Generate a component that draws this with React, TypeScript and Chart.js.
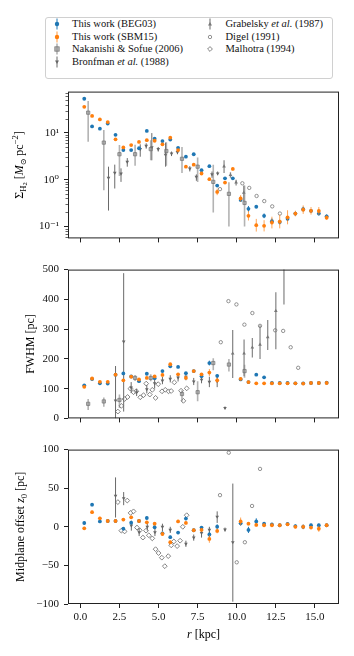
import React, { useEffect, useRef } from 'react';
import { Chart, registerables } from 'chart.js';
Chart.register(...registerables);

const FONT = "'Liberation Serif', 'DejaVu Serif', serif";
const BLUE = '#1f77b4';
const ORANGE = '#ff7f0e';

// ---------------- data ----------------
const R_BINS = [0.25, 0.75, 1.25, 1.75, 2.25, 2.75, 3.25, 3.75, 4.25, 4.75, 5.25, 5.75, 6.25, 6.75, 7.25, 7.75, 8.25, 8.75, 9.25, 9.75, 10.25, 10.75, 11.25, 11.75, 12.25, 12.75, 13.25, 13.75, 14.25, 14.75, 15.25, 15.75];

// surface density (Msun/pc^2), errors in dex
const SD_BEG03 = [53.5, 13.7, 12.3, 15.8, 9.1, 4.3, 4.3, 4.7, 11.0, 7.5, 6.7, 7.2, 4.8, 3.1, 3.5, 1.6, 1.95, 0.75, 1.07, 1.07, 0.37, 0.24, 0.265, 0.17, 0.13, 0.125, 0.147, 0.19, 0.235, 0.217, 0.19, 0.166];
const SD_BEG03_ERR = [0.01, 0.01, 0.01, 0.01, 0.01, 0.01, 0.01, 0.01, 0.01, 0.01, 0.01, 0.01, 0.01, 0.01, 0.01, 0.01, 0.01, 0.03, 0.02, 0.02, 0.04, 0.06, 0.02, 0.05, 0.06, 0.05, 0.05, 0.04, 0.05, 0.03, 0.04, 0.04];
const SD_SBM15 = [36, 23, 19.4, 17, 7.3, 4.9, 5.5, 6.4, 7.0, 6.8, 5.7, 7.9, 4.3, 1.9, 2.1, 1.36, 1.03, 0.55, 0.87, 1.7, 0.40, 0.17, 0.107, 0.104, 0.122, 0.128, 0.158, 0.19, 0.23, 0.217, 0.215, 0.155];
const SD_SBM15_ERR = [0.01, 0.01, 0.01, 0.01, 0.01, 0.01, 0.01, 0.01, 0.01, 0.01, 0.01, 0.01, 0.01, 0.01, 0.01, 0.01, 0.01, 0.07, 0.03, 0.03, 0.07, 0.1, 0.135, 0.12, 0.125, 0.145, 0.15, 0.06, 0.09, 0.08, 0.085, 0.05];

// FWHM (pc)
const FWHM_BEG03 = [111, 132, 118, 117, 147, 151, 141, 125, 150, 135, 159, 175, 173, 152, 159, 142, 186, 143, null, null, 131, 122, 147, 138, 119, 119, 119, 118, 118, 119, 119, 120];
const FWHM_BEG03_ERR = [3, 3, 3, 3, 3, 4, 3, 3, 3, 3, 4, 4, 4, 4, 4, 4, 8, 5, 0, 0, 4, 3, 3, 3, 2, 2, 2, 2, 2, 2, 2, 2];
const FWHM_SBM15 = [106, 134, 123, 123, 147, 128, 140, 131, 136, 141, 146, 182, 148, 136, 159, 148, 154, 128, null, null, 133, 122, 118, 118, 118, 118, 118, 118, 117, 119, 119, 119];
const FWHM_SBM15_ERR = [3, 3, 3, 3, 3, 4, 3, 3, 3, 3, 4, 4, 4, 4, 4, 4, 12, 8, 0, 0, 5, 3, 2, 2, 2, 2, 2, 2, 2, 2, 2, 2];

// midplane offset (pc)
const Z0_BEG03 = [4.9, 28.6, 7, 7.5, 7.5, -2.4, 5.4, 7.5, 11.4, -0.6, -8.5, -13.5, -7.5, 10.6, -4.5, -1, -10, 0.2, null, null, 4.5, -4, 7, 4, 3, 2, 3.6, 1, 0, 2, 2, 2];
const Z0_BEG03_ERR = [2, 2, 2, 2, 2, 2, 2, 2, 2, 2, 2, 2, 2, 2, 2, 2, 3, 3, 0, 0, 3, 4, 4, 2, 2, 2, 2, 2, 3, 2, 2, 2];
const Z0_SBM15 = [-2, 19, 11, 7.5, 7.5, 9.3, 12.3, 7.5, 5.8, 4.1, -9.3, -20, 7, 5, -4.5, -4, -15.7, -5.4, null, null, 7, 4, 2.4, 2, 2, 2, 3.2, 0, 0, -1, -2.5, 2];
const Z0_SBM15_ERR = [2, 2, 2, 2, 2, 2, 2, 2, 2, 2, 2, 2, 2, 2, 2, 2, 5, 3, 0, 0, 5, 2, 2, 2, 2, 2, 2, 2, 3, 2, 4, 2];

// Nakanishi & Sofue (2006)
const NS_SD_R = [0.5, 1.5, 2.5, 3.5, 4.5, 5.5, 6.5, 7.5, 8.5, 9.5, 10.5];
const NS_SD = [27, 6.2, 3.5, 3.5, 4.5, 4.1, 2.8, 1.9, 0.9, 0.5, 0.32];
const NS_SD_LO = [6.5, 0.6, 1.2, 2.0, 2.6, 2.0, 1.4, 0.9, 0.2, 0.1, 0.1];
const NS_SD_HI = [48, 11.5, 5.5, 5.6, 7.0, 6.3, 5.0, 3.0, 2.1, 0.88, 0.75];
const NS_FWHM_R = [0.5, 1.5, 2.5, 3.5, 4.5, 6.5, 7.5, 8.5, 9.5, 10.5];
const NS_FWHM = [49, 57, 62, 136, 136, 82, 88, 186, 181, 159];
const NS_FWHM_LO = [28, 39, 35, 126, 125, 57, 58, 162, 158, 137];
const NS_FWHM_HI = [65, 70, 80, 146, 148, 95, 125, 202, 200, 180];

// Bronfman et al. (1988)
const BR_SD_R = [1.8, 2.2, 2.6, 3.0, 3.83, 4.21, 4.57, 4.98, 5.45, 5.83, 6.21, 7.0, 7.42, 8.42, 8.78];
const BR_SD = [1.1, 1.4, 1.35, 2.4, 4.5, 5.3, 4.9, 4.5, 3.4, 3.6, 3.9, 1.73, 1.15, 1.3, 1.36];
const BR_SD_LO = [0.22, 0.65, 0.9, 1.9, 3.1, 4.6, 2.6, 4.0, 1.9, 3.2, 3.5, 1.5, 0.95, 1.1, 1.25];
const BR_SD_HI = [1.9, 2.1, 1.75, 2.9, 5.7, 6.0, 9.9, 5.0, 6.2, 4.0, 4.3, 1.95, 1.3, 1.5, 1.5];
const BR_FWHM_R = [2.25, 2.77, 3.25, 3.6, 4.25, 4.75, 5.25, 5.75, 6.25, 6.75, 7.25, 7.75, 8.25, 8.75, 9.25];
const BR_FWHM = [60, 258, 104, 88, 98, 118, 127, 133, 137, 140, 124, 130, 123, 125, 35];
const BR_FWHM_LO = [0, 23, 85, 75, 84, 100, 115, 121, 124, 128, 112, 118, 105, 105, 31];
const BR_FWHM_HI = [176, 488, 122, 100, 112, 135, 140, 145, 150, 152, 136, 142, 140, 142, 40];
const BR_Z0_R = [2.25, 2.77, 3.26, 3.76, 4.28, 4.77, 5.25, 5.75, 6.75, 7.25, 7.75, 8.25, 8.75, 9.25, 9.75];
const BR_Z0 = [40, 37, 1.5, -7, 0, -7, 0, -4, -22, -14, -8, -4, 13, -3.6, -20];
const BR_Z0_LO = [12, 28, -5, -12, -5, -12, -6, -8, -26, -18, -14, -8, 5, -6, -97];
const BR_Z0_HI = [64, 45, 8, -2, 5, -2, 4, 0, -18, -10, -2, 0, 20, -1, 56];

// Grabelsky et al. (1987)
const GR_SD_R = [9.19, 9.6, 9.96, 10.45];
const GR_SD = [1.93, 1.26, 0.88, 0.53];
const GR_SD_LO = [1.4, 1.1, 0.75, 0.35];
const GR_SD_HI = [2.6, 1.45, 1.0, 0.75];
const GR_FWHM_R = [9.74, 10.47, 11.0, 11.49, 11.98, 12.5, 13.02];
const GR_FWHM = [218, 218, 238, 248, 273, 361, 560];
const GR_FWHM_LO = [136, 142, 205, 200, 230, 232, 383];
const GR_FWHM_HI = [297, 265, 270, 313, 331, 424, 740];

// Digel (1991)
const DG_SD_R = [8.93, 10.36, 10.8, 11.27, 11.76, 12.27, 12.76];
const DG_SD = [0.63, 0.84, 0.67, 0.45, 0.35, 0.27, 0.19];
const DG_FWHM_R = [8.98, 9.47, 9.98, 10.49, 11.0, 11.49, 12.46, 12.97, 13.45, 13.93];
const DG_FWHM = [256, 394, 383, 315, 354, 311, 296, 294, 239, 170];
const DG_Z0_R = [8.93, 9.49, 10.0, 10.52, 10.98, 11.49];
const DG_Z0 = [41, 96, -46, -20, 27, 75];

// Malhotra (1994)
const ML_FWHM_R = [2.4, 2.62, 2.83, 3.02, 3.2, 3.4, 3.58, 3.83, 4.04, 4.21, 4.44, 4.6, 4.81, 4.98, 5.22, 5.43, 5.64, 5.81, 6.01, 6.44, 6.59, 6.8];
const ML_FWHM = [23, 42, 65, 72, 100, 88, 91, 71, 78, 117, 80, 96, 69, 115, 91, 96, 91, 92, 121, 93, 59, 101];
const ML_Z0_R = [2.4, 2.62, 2.83, 3.0, 3.21, 3.4, 3.62, 3.8, 4.0, 4.2, 4.38, 4.6, 4.81, 5.0, 5.21, 5.4, 5.62, 5.81, 5.98, 6.19, 6.38, 6.55, 6.8];
const ML_Z0 = [32, -5, -6, 34, 18, 20, -1, -4.5, -14, -5, -11, -15, -29, -34, -40, -51, -38, -24, -19, -25, -18, 0, 15];

// axes
const X_MIN = -0.79, X_MAX = 16.54;
const X_TICKS = [0, 2.5, 5, 7.5, 10, 12.5, 15];
const SD_MIN = 0.056, SD_MAX = 76;
const SD_TICKS = [0.1, 1, 10];
const SD_TICK_LABELS = ['10\u207B\u00B9', '10\u2070', '10\u00B9'];
const FWHM_TICKS = [0, 100, 200, 300, 400, 500];
const Z0_TICKS = [-100, -50, 0, 50, 100];

// ---------------- helpers ----------------
type P = { x: number; y: number; lo?: number; hi?: number };
function pts(xs: number[], ys: (number | null)[], lo?: number[], hi?: number[]): P[] {
  const out: P[] = [];
  xs.forEach((x, i) => {
    const y = ys[i];
    if (y == null) return;
    out.push({ x, y, lo: lo ? lo[i] : undefined, hi: hi ? hi[i] : undefined });
  });
  return out;
}
function symErr(ys: (number | null)[], e: number[]) {
  return { lo: ys.map((y, i) => (y == null ? 0 : y - e[i])), hi: ys.map((y, i) => (y == null ? 0 : y + e[i])) };
}
function dexErr(ys: number[], e: number[]) {
  return { lo: ys.map((y, i) => y / Math.pow(10, e[i])), hi: ys.map((y, i) => y * Math.pow(10, e[i])) };
}

type Seg = { t: string; size: number; italic?: boolean; dy?: number };
function drawRich(ctx: CanvasRenderingContext2D, segs: Seg[], cx: number, cy: number, rot: number) {
  ctx.save();
  ctx.translate(cx, cy);
  ctx.rotate(rot);
  const fontOf = (s: Seg) => `${s.italic ? 'italic ' : ''}${s.size}px ${FONT}`;
  let total = 0;
  const ws = segs.map((s) => {
    ctx.font = fontOf(s);
    const w = ctx.measureText(s.t).width;
    total += w;
    return w;
  });
  let x = -total / 2;
  ctx.fillStyle = '#000';
  ctx.textBaseline = 'alphabetic';
  ctx.textAlign = 'left';
  segs.forEach((s, i) => {
    ctx.font = fontOf(s);
    ctx.fillText(s.t, x, 4 + (s.dy || 0));
    x += ws[i];
  });
  ctx.restore();
}

const errorBarPlugin = {
  id: 'errbars',
  beforeDatasetDraw(chart: any, args: any) {
    const ds = chart.data.datasets[args.index];
    if (!ds.errColor) return;
    const xs = chart.scales.x, ys = chart.scales.y;
    const ctx = chart.ctx, a = chart.chartArea;
    ctx.save();
    ctx.beginPath();
    ctx.rect(a.left, a.top, a.right - a.left, a.bottom - a.top);
    ctx.clip();
    ctx.strokeStyle = ds.errColor;
    ctx.lineWidth = ds.errWidth || 1;
    ctx.beginPath();
    for (const p of ds.data as P[]) {
      if (p.lo == null || p.hi == null) continue;
      const px = xs.getPixelForValue(p.x);
      ctx.moveTo(px, ys.getPixelForValue(p.lo));
      ctx.lineTo(px, ys.getPixelForValue(p.hi));
    }
    ctx.stroke();
    ctx.restore();
  },
};

const framePlugin = {
  id: 'frame',
  afterDraw(chart: any, _a: any, opts: any) {
    const ctx: CanvasRenderingContext2D = chart.ctx;
    const a = chart.chartArea;
    ctx.save();
    // minor ticks (log axis)
    if (opts.minor) {
      ctx.strokeStyle = '#222';
      ctx.lineWidth = 0.7;
      ctx.beginPath();
      for (const v of opts.minor as number[]) {
        const py = Math.round(chart.scales.y.getPixelForValue(v)) + 0.5;
        if (py < a.top || py > a.bottom) continue;
        ctx.moveTo(a.left - 2.5, py);
        ctx.lineTo(a.left, py);
      }
      ctx.stroke();
    }
    ctx.strokeStyle = '#222';
    ctx.lineWidth = 1;
    ctx.strokeRect(a.left + 0.5, a.top + 0.5, a.right - a.left - 1, a.bottom - a.top - 1);
    if (opts.yTitle) drawRich(ctx, opts.yTitle, opts.yTitleX, (a.top + a.bottom) / 2, -Math.PI / 2);
    if (opts.xTitle) drawRich(ctx, opts.xTitle, (a.left + a.right) / 2, opts.xTitleY, 0);
    ctx.restore();
  },
};

const tickFont = { family: FONT, size: 11 };

function makeOptions(y: any, showXLabels: boolean, padTop: number, xHeight: number, frame: any) {
  return {
    responsive: false,
    animation: false,
    devicePixelRatio: 1,
    events: [],
    layout: { padding: { top: padTop, right: 15, left: 0, bottom: 0 } },
    plugins: { legend: { display: false }, tooltip: { enabled: false }, frame },
    scales: {
      x: {
        type: 'linear',
        min: X_MIN,
        max: X_MAX,
        afterBuildTicks: (s: any) => {
          s.ticks = X_TICKS.map((v) => ({ value: v }));
        },
        afterFit: (s: any) => {
          s.height = xHeight;
        },
        grid: { display: true, drawOnChartArea: false, drawTicks: true, tickLength: 4, tickColor: '#222', tickWidth: 1 },
        border: { display: false },
        ticks: {
          autoSkip: false,
          maxRotation: 0,
          padding: 3,
          color: '#111',
          font: tickFont,
          callback: (v: any) => (showXLabels ? Number(v).toFixed(1) : ''),
        },
      },
      y: {
        ...y,
        afterFit: (s: any) => {
          s.width = 68;
        },
        grid: { display: true, drawOnChartArea: false, drawTicks: true, tickLength: 4, tickColor: '#222', tickWidth: 1 },
        border: { display: false },
        ticks: { autoSkip: false, padding: 5, color: '#111', font: tickFont, ...(y.ticks || {}) },
      },
    },
  };
}

const thisWork = (data: P[], color: string, label: string, order: number, errColor: string) => ({
  label,
  data,
  order,
  pointStyle: 'circle',
  pointRadius: 1.9,
  backgroundColor: color,
  borderColor: color,
  borderWidth: 0,
  errColor,
  errWidth: 1,
});
const nakanishi = (data: P[]) => ({
  label: 'Nakanishi & Sofue (2006)', data, order: 2, pointStyle: 'rect', pointRadius: 2.3,
  backgroundColor: 'rgba(150,150,150,0.6)', borderColor: 'rgba(110,110,110,0.85)', borderWidth: 0.8,
  errColor: 'rgba(128,128,128,0.6)', errWidth: 1.6,
});
const bronfman = (data: P[]) => ({
  label: 'Bronfman et al. (1988)', data, order: 3, pointStyle: 'triangle', rotation: 180, pointRadius: 2.1,
  backgroundColor: '#666', borderColor: '#666', borderWidth: 0, errColor: '#6a6a6a', errWidth: 1,
});
const grabelsky = (data: P[]) => ({
  label: 'Grabelsky et al. (1987)', data, order: 4, pointStyle: 'triangle', pointRadius: 2.1,
  backgroundColor: '#777', borderColor: '#777', borderWidth: 0, errColor: 'rgba(120,120,120,0.85)', errWidth: 1.3,
});
const digel = (data: P[]) => ({
  label: 'Digel (1991)', data, order: 5, pointStyle: 'circle', pointRadius: 1.7,
  backgroundColor: '#fff', borderColor: '#777', borderWidth: 0.8,
});
const malhotra = (data: P[]) => ({
  label: 'Malhotra (1994)', data, order: 6, pointStyle: 'rectRot', pointRadius: 2.4,
  backgroundColor: '#fff', borderColor: '#666', borderWidth: 0.8,
});

function buildCharts(c1: HTMLCanvasElement, c2: HTMLCanvasElement, c3: HTMLCanvasElement) {
  const minor: number[] = [];
  [0.01, 0.1, 1, 10].forEach((d) => {
    for (let k = 2; k <= 9; k++) minor.push(k * d);
  });

  const sdB = dexErr(SD_BEG03, SD_BEG03_ERR);
  const sdS = dexErr(SD_SBM15, SD_SBM15_ERR);
  const ch1 = new Chart(c1, {
    type: 'scatter',
    data: {
      datasets: [
        thisWork(pts(R_BINS, SD_SBM15, sdS.lo, sdS.hi), ORANGE, 'This work (SBM15)', 0, 'rgba(255,127,14,0.7)'),
        thisWork(pts(R_BINS, SD_BEG03, sdB.lo, sdB.hi), BLUE, 'This work (BEG03)', 1, BLUE),
        nakanishi(pts(NS_SD_R, NS_SD, NS_SD_LO, NS_SD_HI)),
        bronfman(pts(BR_SD_R, BR_SD, BR_SD_LO, BR_SD_HI)),
        grabelsky(pts(GR_SD_R, GR_SD, GR_SD_LO, GR_SD_HI)),
        digel(pts(DG_SD_R, DG_SD)),
      ] as any,
    },
    options: makeOptions(
      {
        type: 'logarithmic',
        min: SD_MIN,
        max: SD_MAX,
        afterBuildTicks: (s: any) => {
          s.ticks = SD_TICKS.map((v) => ({ value: v, major: true }));
        },
        ticks: { callback: (v: any) => SD_TICK_LABELS[SD_TICKS.indexOf(Number(v))] ?? '' },
      },
      false,
      10,
      6,
      {
        minor,
        yTitleX: 19,
        yTitle: [
          { t: '\u03A3', size: 12 },
          { t: 'H', size: 8.5, dy: 2.5 },
          { t: '2', size: 6.5, dy: 4 },
          { t: ' [', size: 12 },
          { t: 'M', size: 12, italic: true },
          { t: '\u2299', size: 8, dy: 2.5 },
          { t: ' pc', size: 12 },
          { t: '\u22122', size: 8.5, dy: -5 },
          { t: ']', size: 12 },
        ],
      },
    ) as any,
    plugins: [errorBarPlugin, framePlugin],
  });

  const fwB = symErr(FWHM_BEG03, FWHM_BEG03_ERR);
  const fwS = symErr(FWHM_SBM15, FWHM_SBM15_ERR);
  const ch2 = new Chart(c2, {
    type: 'scatter',
    data: {
      datasets: [
        thisWork(pts(R_BINS, FWHM_SBM15, fwS.lo, fwS.hi), ORANGE, 'This work (SBM15)', 0, 'rgba(255,127,14,0.7)'),
        thisWork(pts(R_BINS, FWHM_BEG03, fwB.lo, fwB.hi), BLUE, 'This work (BEG03)', 1, BLUE),
        nakanishi(pts(NS_FWHM_R, NS_FWHM, NS_FWHM_LO, NS_FWHM_HI)),
        bronfman(pts(BR_FWHM_R, BR_FWHM, BR_FWHM_LO, BR_FWHM_HI)),
        grabelsky(pts(GR_FWHM_R, GR_FWHM, GR_FWHM_LO, GR_FWHM_HI)),
        digel(pts(DG_FWHM_R, DG_FWHM)),
        malhotra(pts(ML_FWHM_R, ML_FWHM)),
      ] as any,
    },
    options: makeOptions(
      {
        type: 'linear',
        min: 0,
        max: 500,
        afterBuildTicks: (s: any) => {
          s.ticks = FWHM_TICKS.map((v) => ({ value: v }));
        },
        ticks: { callback: (v: any) => String(v) },
      },
      false,
      11,
      6,
      { yTitleX: 30, yTitle: [{ t: 'FWHM [pc]', size: 12 }] },
    ) as any,
    plugins: [errorBarPlugin, framePlugin],
  });

  const zB = symErr(Z0_BEG03, Z0_BEG03_ERR);
  const zS = symErr(Z0_SBM15, Z0_SBM15_ERR);
  const ch3 = new Chart(c3, {
    type: 'scatter',
    data: {
      datasets: [
        thisWork(pts(R_BINS, Z0_SBM15, zS.lo, zS.hi), ORANGE, 'This work (SBM15)', 0, 'rgba(255,127,14,0.7)'),
        thisWork(pts(R_BINS, Z0_BEG03, zB.lo, zB.hi), BLUE, 'This work (BEG03)', 1, BLUE),
        bronfman(pts(BR_Z0_R, BR_Z0, BR_Z0_LO, BR_Z0_HI)),
        digel(pts(DG_Z0_R, DG_Z0)),
        malhotra(pts(ML_Z0_R, ML_Z0)),
      ] as any,
    },
    options: makeOptions(
      {
        type: 'linear',
        min: -100,
        max: 100,
        afterBuildTicks: (s: any) => {
          s.ticks = Z0_TICKS.map((v) => ({ value: v }));
        },
        ticks: { callback: (v: any) => String(v).replace('-', '\u2212') },
      },
      true,
      11,
      52,
      {
        yTitleX: 20,
        yTitle: [
          { t: 'Midplane offset ', size: 12 },
          { t: 'z', size: 12, italic: true },
          { t: '0', size: 8.5, dy: 2.5 },
          { t: ' [pc]', size: 12 },
        ],
        xTitleY: 196,
        xTitle: [
          { t: 'r', size: 12, italic: true },
          { t: ' [kpc]', size: 12 },
        ],
      },
    ) as any,
    plugins: [errorBarPlugin, framePlugin],
  });
  return [ch1, ch2, ch3];
}

// ---------------- legend ----------------
type LegendItem = { label: React.ReactNode; marker: React.ReactNode; col: number; row: number };
const bar = (c: string, w = 1) => <line x1={5} y1={0.5} x2={5} y2={11.5} stroke={c} strokeWidth={w} />;
const LEGEND: LegendItem[] = [
  { col: 0, row: 0, label: 'This work (BEG03)', marker: <>{bar(BLUE)}<circle cx={5} cy={6} r={2.2} fill={BLUE} /></> },
  { col: 0, row: 1, label: 'This work (SBM15)', marker: <>{bar('rgba(255,127,14,0.8)')}<circle cx={5} cy={6} r={2.2} fill={ORANGE} /></> },
  { col: 0, row: 2, label: 'Nakanishi & Sofue (2006)', marker: <>{bar('rgba(128,128,128,0.6)', 1.6)}<rect x={2.8} y={3.8} width={4.4} height={4.4} fill="rgba(150,150,150,0.7)" stroke="rgba(110,110,110,0.85)" strokeWidth={0.8} /></> },
  { col: 0, row: 3, label: <>Bronfman <i>et al.</i> (1988)</>, marker: <>{bar('#6a6a6a')}<polygon points="3,4.5 7,4.5 5,8" fill="#666" /></> },
  { col: 1, row: 0, label: <>Grabelsky <i>et al.</i> (1987)</>, marker: <>{bar('rgba(120,120,120,0.85)', 1.3)}<polygon points="3,7.5 7,7.5 5,4" fill="#777" /></> },
  { col: 1, row: 1, label: 'Digel (1991)', marker: <circle cx={5} cy={6} r={1.7} fill="#fff" stroke="#777" strokeWidth={0.8} /> },
  { col: 1, row: 2, label: 'Malhotra (1994)', marker: <polygon points="5,3.6 7.4,6 5,8.4 2.6,6" fill="#fff" stroke="#666" strokeWidth={0.8} /> },
];
const LEG_ROWS = [24, 36.5, 49, 61.5];
const LEG_MARK_X = [56.7, 210];
const LEG_TEXT_X = [72, 225.5];

function Legend() {
  return (
    <>
      <div
        style={{
          position: 'absolute', left: 45, top: 17, width: 288, height: 62, boxSizing: 'border-box',
          border: '1px solid #d0d0d0', borderRadius: 3, background: '#fff',
        }}
      />
      {LEGEND.map((it, i) => (
        <React.Fragment key={i}>
          <svg
            width={10}
            height={12}
            style={{ position: 'absolute', left: LEG_MARK_X[it.col] - 5, top: LEG_ROWS[it.row] - 6 }}
          >
            {it.marker}
          </svg>
          <div
            style={{
              position: 'absolute', left: LEG_TEXT_X[it.col], top: LEG_ROWS[it.row] - 7, height: 14,
              lineHeight: '14px', fontSize: 10.5, fontFamily: FONT, color: '#111', whiteSpace: 'nowrap',
            }}
          >
            {it.label}
          </div>
        </React.Fragment>
      ))}
    </>
  );
}

export default function App() {
  const r1 = useRef<HTMLCanvasElement>(null);
  const r2 = useRef<HTMLCanvasElement>(null);
  const r3 = useRef<HTMLCanvasElement>(null);
  useEffect(() => {
    const charts = buildCharts(r1.current!, r2.current!, r3.current!);
    return () => charts.forEach((c) => c.destroy());
  }, []);
  const cs = (top: number, h: number): React.CSSProperties => ({ position: 'absolute', left: 0, top, width: 354, height: h, display: 'block' });
  return (
    <div style={{ position: 'absolute', left: 0, top: 0, width: 354, height: 656, background: '#fff', overflow: 'hidden' }}>
      <Legend />
      <canvas ref={r1} width={354} height={170} style={cs(80, 170)} />
      <canvas ref={r2} width={354} height={172} style={cs(258, 172)} />
      <canvas ref={r3} width={354} height={218} style={cs(438, 218)} />
    </div>
  );
}
